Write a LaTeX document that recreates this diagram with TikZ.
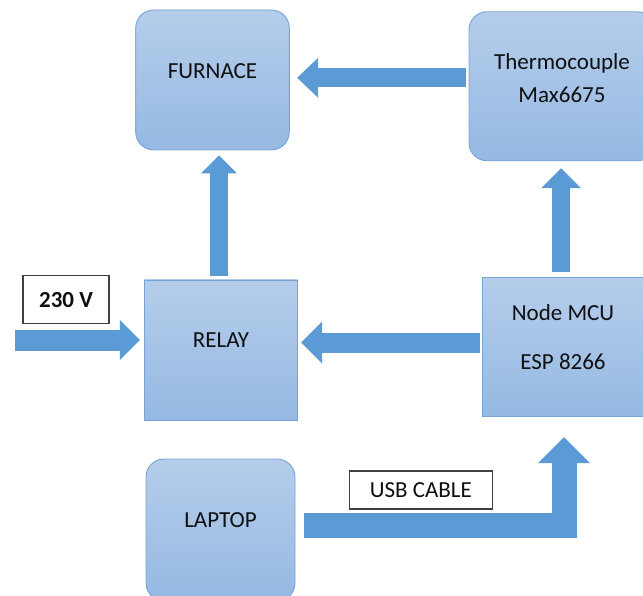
\documentclass[tikz,border=0pt]{standalone}
\usepackage{fontspec}
\setmainfont{Carlito}
\usetikzlibrary{arrows.meta}
\definecolor{boxtop}{RGB}{181,205,235}
\definecolor{boxbot}{RGB}{149,185,226}
\definecolor{boxline}{RGB}{120,163,214}
\definecolor{flowblue}{RGB}{91,155,213}
\definecolor{txtgray}{RGB}{15,15,15}
\tikzset{
  unitbox/.style={draw=boxline, line width=0.9pt, top color=boxtop, bottom color=boxbot},
  roundbox/.style={unitbox, rounded corners=18pt},
  caption/.style={font=\fontsize{23}{27}\selectfont, text=txtgray, inner sep=0pt, align=center},
  tagbox/.style={draw=black!75, line width=1.2pt, fill=white, font=\fontsize{23}{27}\selectfont, text=txtgray},
  flow/.style n args={3}{draw=flowblue, line width=#1, line join=miter,
    -{Triangle[width=#2, length=#3, line width=0pt]}},
}
\begin{document}
\begin{tikzpicture}[x=1pt, y=-1pt]
    \useasboundingbox (0,0) rectangle (643,596);
    \clip (0,0) rectangle (643,596);
    \node[roundbox, minimum width=153.6pt, minimum height=140pt] (furnace) at (212.5,80) {};
    \node[roundbox, minimum width=186pt, minimum height=149pt] (thermo) at (562,86.3) {};
    \node[unitbox, minimum width=153.4pt, minimum height=140pt] (relay) at (221,350) {};
    \node[unitbox, minimum width=162pt, minimum height=139.4pt] (nodemcu) at (563,347) {};
    \node[roundbox, minimum width=149pt, minimum height=142pt] (laptop) at (220.5,530) {};
    \node[caption] (furnace-txt) at ([yshift=9pt]furnace.center) {FURNACE};
    \node[caption, font=\fontsize{23}{33}\selectfont] (thermo-txt) at ([yshift=8pt]thermo.center) {Thermocouple\\Max6675};
    \node[caption] (relay-txt) at ([yshift=10pt]relay.center) {RELAY};
    \node[caption, font=\fontsize{23}{49}\selectfont] (nodemcu-txt) at ([yshift=10pt]nodemcu.center) {Node MCU\\ESP 8266};
    \node[caption] (laptop-txt) at ([yshift=10pt]laptop.center) {LAPTOP};
    \node[tagbox, font=\bfseries\fontsize{23}{27}\selectfont, minimum width=86pt, minimum height=48pt] (mains-tag) at (66,299.7) {230 V};
    \node[tagbox, minimum width=143pt, minimum height=38pt] (usb-tag) at (420.8,489.9) {USB CABLE};
    \coordinate (mains) at (15,340);
    \draw[flow={21pt}{40pt}{20pt}, shorten >=4pt] (mains) -- ([yshift=10pt]relay.west);
    \draw[flow={18pt}{36pt}{18pt}, shorten <=4pt, shorten >=5pt] ([xshift=-2pt]relay.north) -- ([xshift=-2pt]relay.north |- furnace.south);
    \draw[flow={20pt}{42pt}{21pt}, shorten <=2pt, shorten >=3pt] ([yshift=4.5pt]nodemcu.west) -- ([yshift=4.5pt]nodemcu.west -| relay.east);
    \draw[flow={18pt}{40pt}{20pt}, shorten <=5pt, shorten >=7pt] ([xshift=-2pt]nodemcu.north) -- ([xshift=-2pt]nodemcu.north |- thermo.south);
    \draw[flow={19pt}{40pt}{21pt}, shorten <=2.5pt, shorten >=7.4pt] ([yshift=8.5pt]thermo.west) -- ([yshift=8.5pt]thermo.west -| furnace.east);
    \draw[flow={25pt}{52pt}{26pt}, shorten <=9pt, shorten >=20pt] ([yshift=5pt]laptop.east) -| ([xshift=1pt]nodemcu.south);
\end{tikzpicture}
\end{document}
